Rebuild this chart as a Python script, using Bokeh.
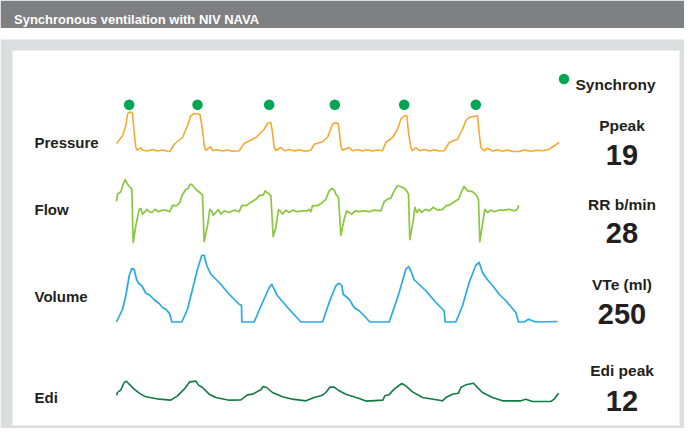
from bokeh.plotting import figure
from bokeh.models import Range1d
from bokeh.core.properties import value
from bokeh.embed import file_html
from bokeh.resources import INLINE

# ------------------------------------------------------------------ data
title_text = "Synchronous ventilation with NIV NAVA"
channel_labels = ["Pressure", "Flow", "Volume", "Edi"]
readout_names = ["Ppeak", "RR b/min", "VTe (ml)", "Edi peak"]
readout_values = ["19", "28", "250", "12"]
legend_label = "Synchrony"

# (time s, cmH2O)
pressure_points = [
    (0.00, 7.2), (0.18, 10.3), (0.28, 14.3), (0.33, 18.9), (0.40, 19.9), (0.48, 19.3),
    (0.53, 11.6), (0.58, 5.6), (0.63, 4.5), (0.73, 5.6), (0.78, 4.5), (0.93, 4.2),
    (1.08, 4.8), (1.23, 4.2), (1.38, 4.6), (1.53, 4.1), (1.60, 4.0), (1.73, 6.9),
    (1.98, 9.6), (2.13, 14.3), (2.23, 18.3), (2.33, 19.2), (2.50, 18.9), (2.58, 12.9),
    (2.63, 6.3), (2.68, 4.5), (2.83, 5.9), (2.88, 4.4), (3.03, 4.7), (3.18, 4.2),
    (3.33, 4.6), (3.48, 4.1), (3.68, 4.3), (3.83, 7.2), (4.18, 9.6), (4.43, 12.9),
    (4.53, 15.3), (4.63, 15.6), (4.68, 11.6), (4.73, 5.6), (4.78, 4.4), (4.93, 5.6),
    (5.04, 4.3), (5.19, 4.8), (5.34, 4.2), (5.49, 4.7), (5.64, 4.1), (5.83, 4.5),
    (5.93, 6.9), (6.18, 7.9), (6.33, 9.6), (6.48, 14.9), (6.58, 15.6), (6.66, 14.9),
    (6.73, 6.3), (6.78, 4.5), (6.98, 5.6), (7.08, 4.3), (7.23, 4.8), (7.38, 4.2),
    (7.53, 4.7), (7.68, 4.2), (7.83, 4.6), (7.98, 4.3), (8.08, 7.6), (8.28, 9.6),
    (8.43, 12.9), (8.53, 16.9), (8.63, 18.3), (8.71, 18.3), (8.76, 11.6), (8.83, 5.6),
    (8.88, 4.3), (8.98, 5.6), (9.09, 4.3), (9.24, 4.8), (9.39, 4.2), (9.54, 4.7),
    (9.69, 4.2), (9.83, 4.3), (9.98, 7.6), (10.23, 8.9), (10.38, 12.9), (10.48, 16.3),
    (10.58, 17.6), (10.83, 18.3), (10.88, 11.6), (10.93, 5.6), (11.03, 4.3), (11.13, 5.3),
    (11.28, 4.2), (11.43, 4.7), (11.58, 4.1), (11.73, 4.6), (11.88, 4.0), (12.08, 4.0),
    (12.24, 4.6), (12.42, 4.1), (12.63, 4.5), (12.78, 4.3), (12.98, 4.9), (13.13, 6.3),
    (13.28, 7.6),
]

# (time s, L/min)
flow_points = [
    (0.00, 2.3), (0.03, 4.1), (0.13, 4.7), (0.20, 6.6), (0.26, 7.7), (0.33, 6.6),
    (0.46, 5.3), (0.50, -8.0), (0.58, -3.8), (0.68, 0.3), (0.73, 0.5), (0.78, -0.9),
    (0.86, -0.3), (0.91, 0.3), (0.98, -0.3), (1.06, -0.5), (1.16, 0.3), (1.26, -0.3),
    (1.38, 0.1), (1.48, 0.1), (1.60, -0.3), (1.68, 1.3), (1.80, 1.2), (1.90, 2.0),
    (1.96, 3.7), (2.08, 5.3), (2.15, 5.5), (2.21, 6.6), (2.28, 6.3), (2.38, 5.3),
    (2.50, 4.5), (2.58, 3.9), (2.63, -7.8), (2.73, -3.8), (2.80, 0.3), (2.85, -0.1),
    (2.90, -1.2), (3.00, -0.3), (3.06, 0.2), (3.13, -0.9), (3.23, -0.1), (3.38, -0.5),
    (3.53, 0.1), (3.68, -0.3), (3.76, 1.3), (3.88, 1.2), (4.03, 2.0), (4.18, 2.8),
    (4.28, 3.7), (4.41, 3.9), (4.46, 4.9), (4.58, 4.1), (4.63, 3.7), (4.70, -6.5),
    (4.78, -4.3), (4.86, 0.2), (4.91, -0.1), (4.98, -0.9), (5.08, 0.1), (5.18, -0.5),
    (5.28, 0.1), (5.43, -0.3), (5.58, -0.1), (5.73, -0.1), (5.78, 0.3), (5.83, -0.3),
    (5.88, 1.2), (6.03, 1.2), (6.18, 2.0), (6.28, 2.8), (6.38, 4.9), (6.46, 5.5),
    (6.53, 5.2), (6.58, 4.1), (6.66, 3.3), (6.73, -6.2), (6.83, -2.2), (6.90, -0.1),
    (6.98, -0.5), (7.06, -0.9), (7.16, -0.1), (7.28, -0.3), (7.43, -0.1), (7.58, -0.3),
    (7.73, 0.1), (7.93, -0.1), (8.03, 2.2), (8.13, 2.8), (8.23, 3.1), (8.33, 4.9),
    (8.43, 6.2), (8.58, 5.8), (8.68, 5.2), (8.76, 4.1), (8.80, -7.3), (8.90, -2.6),
    (8.95, 0.8), (9.01, -0.5), (9.08, 0.3), (9.16, -0.5), (9.26, 0.3), (9.38, -0.1),
    (9.50, 0.8), (9.63, 0.1), (9.78, 0.3), (9.90, 1.3), (9.98, 1.3), (10.13, 2.2),
    (10.26, 2.8), (10.36, 4.9), (10.43, 6.0), (10.53, 4.9), (10.68, 4.7), (10.80, 3.8),
    (10.86, 2.7), (10.90, -7.8), (10.98, -3.4), (11.05, 0.3), (11.13, -0.5), (11.23, 0.1),
    (11.33, -0.3), (11.48, 0.1), (11.63, 0.1), (11.78, 0.3), (11.93, -0.1), (12.03, 0.3),
    (12.06, 1.3),
]

# (time s, ml)
volume_points = [
    (0.00, 0), (0.18, 51), (0.28, 105), (0.38, 185), (0.46, 214), (0.53, 211),
    (0.60, 171), (0.66, 155), (0.76, 145), (0.88, 115), (1.00, 107), (1.13, 89),
    (1.28, 74), (1.38, 58), (1.50, 49), (1.60, 31), (1.66, 0), (1.96, 0),
    (2.13, 51), (2.28, 131), (2.43, 211), (2.56, 267), (2.63, 267), (2.71, 225),
    (2.83, 191), (3.08, 158), (3.38, 111), (3.68, 71), (3.75, 67), (3.76, 0),
    (4.13, 0), (4.38, 78), (4.58, 138), (4.66, 151), (4.73, 131), (4.83, 105),
    (5.18, 51), (5.53, 0), (6.18, 0), (6.38, 78), (6.58, 145), (6.68, 155),
    (6.76, 145), (6.80, 111), (6.98, 91), (7.13, 58), (7.28, 45), (7.43, 25),
    (7.60, 0), (8.18, 0), (8.28, 38), (8.48, 118), (8.68, 211), (8.76, 222),
    (8.83, 205), (8.93, 169), (9.28, 125), (9.58, 78), (9.83, 45), (9.86, 0),
    (10.18, 0), (10.38, 65), (10.58, 158), (10.78, 227), (10.88, 238), (10.98, 198),
    (11.13, 169), (11.33, 138), (11.48, 111), (11.68, 85), (11.98, 38), (12.06, 0),
    (12.23, 0), (12.36, 11), (12.48, 5), (12.58, 0), (13.23, 2),
]

# (time s, microvolt)
edi_points = [
    (0.00, 3.8), (0.03, 5.4), (0.13, 7.0), (0.23, 11.4), (0.30, 12.2), (0.38, 10.4),
    (0.53, 7.4), (0.68, 5.0), (0.88, 2.8), (1.28, 1.4), (1.63, 0.8), (1.83, 3.4),
    (2.03, 7.4), (2.20, 11.8), (2.38, 12.2), (2.46, 9.8), (2.58, 8.4), (2.78, 4.4),
    (2.98, 2.4), (3.38, 0.8), (3.73, 1.0), (3.93, 4.0), (4.08, 4.4), (4.33, 7.0),
    (4.40, 9.0), (4.50, 8.4), (4.68, 5.4), (4.98, 2.8), (5.28, 1.4), (5.68, 0.4),
    (5.93, 2.4), (6.18, 3.8), (6.28, 5.4), (6.40, 8.6), (6.53, 8.6), (6.68, 6.4),
    (6.88, 4.4), (7.28, 1.8), (7.50, 0.2), (7.99, 0.8), (8.05, 3.4), (8.17, 4.0),
    (8.33, 7.4), (8.56, 10.8), (8.68, 9.4), (8.88, 5.8), (9.18, 2.4), (9.78, 0.4),
    (9.88, 2.4), (10.08, 4.4), (10.26, 5.0), (10.33, 8.4), (10.48, 10.0), (10.71, 11.0),
    (10.78, 9.4), (10.98, 5.4), (11.28, 2.4), (11.58, 0.4), (12.13, 0.4), (12.28, 1.4),
    (12.48, 0.0), (13.03, 0.0), (13.13, 1.4), (13.26, 5.0),
]

# times of synchronous breaths (green markers)
sync_times = [0.38, 2.43, 4.58, 6.55, 8.63, 10.78]
sync_marker_level = 22.7  # cmH2O, drawn just above the peaks

# ------------------------------------------------------------------ layout
W, H = 684, 428
M = 8  # page margin -> figure spans page px 8..692, 8..436
PAGE_L, PAGE_R, PAGE_T, PAGE_B = M, M + W, M, M + H

FONT = value("Liberation Sans")
TXT = "#231f20"

p = figure(width=W, height=H, output_backend="svg", toolbar_location=None,
           x_range=Range1d(PAGE_L, PAGE_R), y_range=Range1d(PAGE_B, PAGE_T),
           x_axis_type=None, y_axis_type=None, min_border=0,
           outline_line_color=None, background_fill_color="white",
           border_fill_color="white")

# time axis mapping: t=0 at page x 124, 30 ms per px
T0_PX, PX_PER_S = 124.0, 1 / 0.03
p.extra_x_ranges = {"t": Range1d((PAGE_L - T0_PX) / PX_PER_S, (PAGE_R - T0_PX) / PX_PER_S)}

def band(v0, py0, ppu):
    return Range1d(v0 - (PAGE_B - py0) / ppu, v0 + (py0 - PAGE_T) / ppu)

p.extra_y_ranges = {
    "p": band(4.0, 159.0, 2.5),
    "f": band(0.0, 218.0, 4.0),
    "v": band(0.0, 329.5, 0.25),
    "e": band(0.0, 409.0, 1 / 0.6),
}

# frames
p.quad(left=[PAGE_L], right=[PAGE_R], top=[8], bottom=[35.5], color="#7f8083", line_color=None)
p.quad(left=[PAGE_L], right=[PAGE_R], top=[47], bottom=[PAGE_B], color="#dcddde", line_color=None)
p.quad(left=[20], right=[687], top=[58], bottom=[433], color="white", line_color=None)

p.text(x=[21.5], y=[27], text=[title_text], text_font=FONT,
       text_font_style="bold", text_font_size="13px", text_color="white",
       text_baseline="alphabetic")

# traces
def unzip(pts):
    return [a for a, _ in pts], [b for _, b in pts]

series = [
    (pressure_points, "p", "#f6a834", 1.6),
    (flow_points, "f", "#8cc63f", 1.7),
    (volume_points, "v", "#29abe2", 1.7),
    (edi_points, "e", "#117a43", 1.6),
]
for pts, rng, col, lw in series:
    xs, ys = unzip(pts)
    p.line(x=xs, y=ys, x_range_name="t", y_range_name=rng, line_color=col,
           line_width=lw, line_join="round")

p.scatter(x=sync_times, y=[sync_marker_level] * len(sync_times), x_range_name="t",
          y_range_name="p", size=10.5, color="#00a651", line_color=None)

# legend
p.scatter(x=[571.5], y=[86.5], size=10.5, color="#00a651", line_color=None)
p.text(x=[583], y=[91.5], text=[legend_label], text_font=FONT, text_font_style="bold",
       text_font_size="15.5px", text_color=TXT, text_baseline="alphabetic")

# channel labels
p.text(x=[42] * 4, y=[150, 217, 304, 405], text=channel_labels, text_font=FONT,
       text_font_style="bold", text_font_size="15px", text_color=TXT,
       text_baseline="alphabetic")

# readouts
p.text(x=[629.5] * 4, y=[133.3, 211.7, 291.5, 378], text=readout_names, text_font=FONT,
       text_font_style="bold", text_font_size="15.5px", text_color=TXT,
       text_align="center", text_baseline="alphabetic")
p.text(x=[629.5] * 4, y=[162.7, 240.7, 321.7, 408.3], text=readout_values, text_font=FONT,
       text_font_style="bold", text_font_size="29px", text_color=TXT,
       text_align="center", text_baseline="alphabetic")

open("out.html", "w").write(file_html(p, INLINE))
